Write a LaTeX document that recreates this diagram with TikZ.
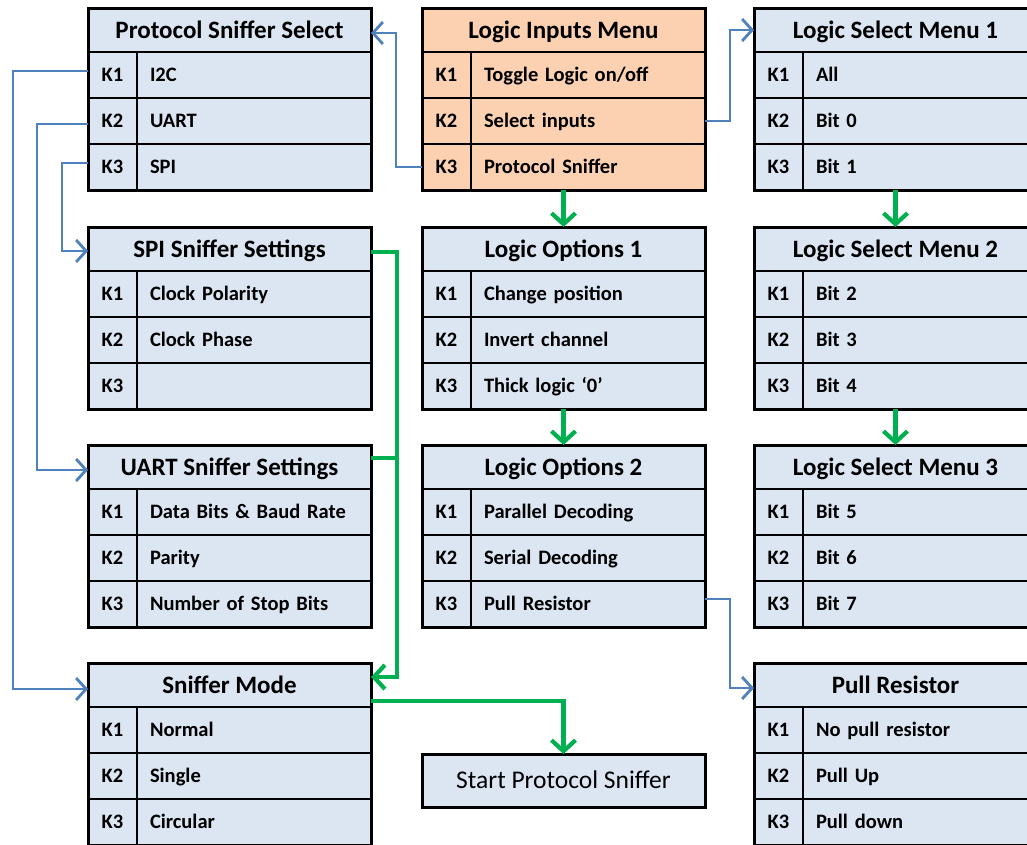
\documentclass[tikz,border=0pt]{standalone}
\usepackage{fontspec}
\setmainfont{Carlito}
\usetikzlibrary{arrows.meta}

\definecolor{menublue}{RGB}{220,230,242}
\definecolor{menuorange}{RGB}{251,209,177}
\definecolor{linkblue}{RGB}{79,129,189}
\definecolor{linkgreen}{RGB}{0,176,80}

\tikzset{
    cell/.style={draw, line width=1.6pt, outer sep=0pt, inner sep=0pt},
    menutitle/.style={cell, minimum width=283pt, minimum height=44pt, text height=16pt, text depth=0pt, font=\bfseries\fontsize{25}{29}\selectfont},
    keycell/.style={cell, minimum width=49pt, minimum height=46pt, text height=13pt, text depth=1pt, font=\bfseries\fontsize{20.5}{24}\selectfont},
    itemcell/.style={cell, minimum height=46pt, text width=208pt, inner xsep=13pt, align=left, text height=13pt, text depth=1pt, font=\bfseries\fontsize{20.5}{24}\selectfont},
    startbox/.style={cell, line width=3pt, fill=menublue, minimum width=283pt, minimum height=53pt, text height=16.5pt, text depth=0pt, font=\fontsize{25.5}{29}\selectfont},
    menurim/.style={line width=3pt},
    bluelink/.style={draw=linkblue, line width=2.8pt, -{Straight Barb[length=10pt, width=22pt]}},
    greenline/.style={draw=linkgreen, line width=4.2pt},
    greenlink/.style={greenline, -{Straight Barb[length=11pt, width=24pt]}}
}

\newcommand{\menubox}[7]{%
    \node[menutitle, fill=#3, anchor=north west] (#1) at (#2) {#4};
    \node[keycell, fill=#3, anchor=north west] (#1-k1) at (#1.south west) {K1};
    \node[itemcell, fill=#3, anchor=north west] (#1-i1) at (#1-k1.north east) {#5};
    \node[keycell, fill=#3, anchor=north west] (#1-k2) at (#1-k1.south west) {K2};
    \node[itemcell, fill=#3, anchor=north west] (#1-i2) at (#1-k2.north east) {#6};
    \node[keycell, fill=#3, anchor=north west] (#1-k3) at (#1-k2.south west) {K3};
    \node[itemcell, fill=#3, anchor=north west] (#1-i3) at (#1-k3.north east) {#7};
    \draw[menurim] (#1.north west) rectangle (#1-i3.south east);
}

\begin{document}
\begin{tikzpicture}[x=1pt, y=-1pt]
    \useasboundingbox (0,0) rectangle (1027,844);
    \fill[white] (0,0) rectangle (1027,844);
    \clip (0,0) rectangle (1027,844);

    \menubox{prot}{88,8}{menublue}{Protocol Sniffer Select}{I2C}{UART}{SPI}
    \menubox{logic}{422,8}{menuorange}{Logic Inputs Menu}{Toggle Logic on/off}{Select inputs}{Protocol Sniffer}
    \menubox{sel1}{754,8}{menublue}{Logic Select Menu 1}{All}{Bit 0}{Bit 1}

    \menubox{spi}{88,227}{menublue}{SPI Sniffer Settings}{Clock Polarity}{Clock Phase}{}
    \menubox{opt1}{422,227}{menublue}{Logic Options 1}{Change position}{Invert channel}{Thick logic ‘0’}
    \menubox{sel2}{754,227}{menublue}{Logic Select Menu 2}{Bit 2}{Bit 3}{Bit 4}

    \menubox{uart}{88,445}{menublue}{UART Sniffer Settings}{Data Bits \& Baud Rate}{Parity}{Number of Stop Bits}
    \menubox{opt2}{422,445}{menublue}{Logic Options 2}{Parallel Decoding}{Serial Decoding}{Pull Resistor}
    \menubox{sel3}{754,445}{menublue}{Logic Select Menu 3}{Bit 5}{Bit 6}{Bit 7}

    \menubox{mode}{88,663}{menublue}{Sniffer Mode}{Normal}{Single}{Circular}
    \node (start) [startbox, anchor=north west] at (422,754) {Start Protocol Sniffer};
    \menubox{pull}{754,663}{menublue}{Pull Resistor}{No pull resistor}{Pull Up}{Pull down}

    \draw[bluelink] (logic-k3.west) -- ++(-26,0) |- ([yshift=-3pt]prot.east);
    \draw[bluelink] (logic-i2.east) -- ++(25,0) |- (sel1.west);
    \draw[bluelink] ([yshift=4pt]prot-k1.west) -- ++(-75,0) |- ([yshift=-4pt]mode.west);
    \draw[bluelink] ([yshift=-3pt]prot-k2.west) -- ++(-51,0) |- ([yshift=-3pt]uart.west);
    \draw[bluelink] ([yshift=4pt]prot-k3.west) -- ++(-26,0) |- ([yshift=-2pt]spi.west);
    \draw[bluelink] ([yshift=5pt]opt2-i3.east) -- ++(25,0) |- ([yshift=-3pt]pull.west);

    \draw[greenlink] (logic.center |- logic-k3.south) -- (opt1.north);
    \draw[greenlink] (opt1.center |- opt1-k3.south) -- (opt2.north);
    \draw[greenlink] (sel1.center |- sel1-k3.south) -- (sel2.north);
    \draw[greenlink] (sel2.center |- sel2-k3.south) -- (sel3.north);
    \draw[greenlink] ([yshift=-3pt]spi.east) -- ++(26,0) |- ([yshift=8pt]mode.east);
    \draw[greenline] ([yshift=9pt]uart.east) -- ++(26,0);
    \draw[greenlink] ([yshift=-16pt]mode.east) -| (start.north);
\end{tikzpicture}
\end{document}
